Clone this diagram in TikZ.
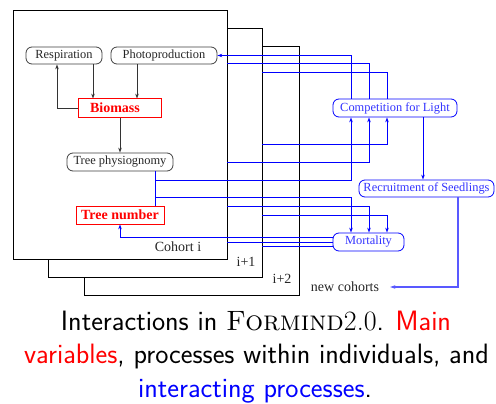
\documentclass[tikz,border=0pt]{standalone}
\usepackage{fontspec}
\newfontfamily\tms{Liberation Serif}
\usetikzlibrary{arrows.meta}
\begin{document}
\begin{tikzpicture}[x=1pt,y=-1pt,
  cohort/.style={draw=black,fill=white,line width=0.8pt,inner sep=0pt},
  proc/.style={draw=black!75,rounded corners=6pt,line width=0.8pt,minimum height=17pt,inner xsep=2pt,inner ysep=0pt,font=\tms\fontsize{12.4}{14}\selectfont,text=black!85},
  var/.style={draw=red,line width=0.8pt,minimum height=18pt,inner xsep=2pt,inner ysep=0pt,font=\tms\bfseries\fontsize{14}{16}\selectfont,text=red},
  iproc/.style={draw=blue,rounded corners=6pt,line width=0.8pt,minimum height=18pt,inner xsep=2pt,inner ysep=0pt,font=\tms\fontsize{12.4}{14}\selectfont,text=blue!80},
  lbl/.style={inner sep=0pt,font=\tms\fontsize{14}{16}\selectfont,text=black!85},
  arr/.style={-{Stealth[length=5pt,width=3.5pt]},line width=0.8pt,draw=black!80},
  bl/.style={draw=blue,line width=0.8pt},
  barr/.style={bl,-{Stealth[length=5pt,width=3.5pt]}},
  captxt/.style={anchor=base,inner sep=0pt,font=\sffamily\fontsize{28}{33.5}\selectfont}
]
\useasboundingbox (0,0) rectangle (496,404);

% cohort boxes
\node[cohort,minimum width=215pt,minimum height=249pt] (c2) at (191.5,170.5) {};
\node[cohort,minimum width=214pt,minimum height=249pt] (c1) at (155,152.5) {};
\node[cohort,minimum width=214pt,minimum height=249pt] (c0) at (120,134.5) {};

\node[lbl] (lc0) at (178,247) {Cohort i};
\node[lbl] (lc1) at (246,262) {i+1};
\node[lbl] (lc2) at (282,279) {i+2};

% within-individual processes
\node[proc,minimum width=76pt] (resp) at (64,55.5) {Respiration};
\node[proc,minimum width=106pt] (photo) at (164,55.5) {Photoproduction};
\node[var,draw=none,minimum width=82pt] (bio) at (120,108) {Biomass\hspace*{10pt}};
\node[proc,minimum width=106pt,minimum height=18pt] (phys) at (120,162) {Tree physiognomy};
\node[var,minimum width=88pt] (num) at (120,215) {Tree number};

% interacting processes
\node[iproc,minimum width=124pt] (comp) at (395,108) {Competition for Light};
\node[iproc,minimum width=135pt,minimum height=17pt] (rec) at (426.5,188.5) {Recruitment of Seedlings};
\node[iproc,minimum width=71pt] (mort) at (368.5,242) {Mortality};
\node[lbl,inner xsep=11pt] (newc) at (345,287) {new cohorts};

\coordinate (v1) at (351,0);
\coordinate (v2) at (369,0);
\coordinate (v3) at (387,0);
\coordinate (v4) at (423,0);
\coordinate (v5) at (458,0);
\coordinate (ph) at ([xshift=35pt]phys.south);

% black arrows
\draw[arr] (bio.west) -| ([xshift=-7pt]resp.south);
\draw[arr] ([xshift=29pt]resp.south) -- ([xshift=29pt]resp.south |- bio.north);
\draw[arr] ([xshift=-27pt]photo.south) -- ([xshift=-27pt]photo.south |- bio.north);
\draw[arr] (bio.south) -- (phys.north);
\draw[red,line width=0.8pt] (bio.south west) rectangle (bio.north east);

% blue connectors
\draw[bl] (ph) -- (ph |- num.north);
\draw[barr] (ph |- 0,180) -| (v1 |- comp.south);
\draw[barr] (ph |- 0,197) -| (v1 |- mort.north);
\draw[barr] (v1 |- comp.north) |- (photo.east);
\draw[bl] (v2 |- comp.north) |- (c0.east |- 0,63);
\draw[bl] (v3 |- comp.north) |- (c1.east |- 0,72);
\draw[barr] (c0.east |- 0,162) -| (v2 |- comp.south);
\draw[barr] (c1.east |- 0,144) -| (v3 |- comp.south);
\draw[barr] (c0.east |- 0,206) -| (v2 |- mort.north);
\draw[barr] (c1.east |- 0,215) -| (v3 |- mort.north);
\draw[barr] (mort.west |- 0,237) -| (num.south);
\draw[bl] (mort.west |- 0,242) -- (c0.east |- 0,242);
\draw[bl] (mort.west |- 0,246) -- (c1.east |- 0,246);
\draw[barr] (v4 |- comp.south) -- (v4 |- rec.north);
\draw[barr,draw=blue!65,line width=1.1pt] (v5 |- rec.south) |- (newc.east);

% caption
\node[captxt] (cap1) at (256,330) {Interactions in \textrm{\textsc{Formind}2.0}. \textcolor{red}{Main}};
\node[captxt] (cap2) at (256.5,363.5) {\textcolor{red}{variables}, processes within individuals, and};
\node[captxt] (cap3) at (255,397) {\textcolor{blue}{interacting processes}.};
\end{tikzpicture}
\end{document}
